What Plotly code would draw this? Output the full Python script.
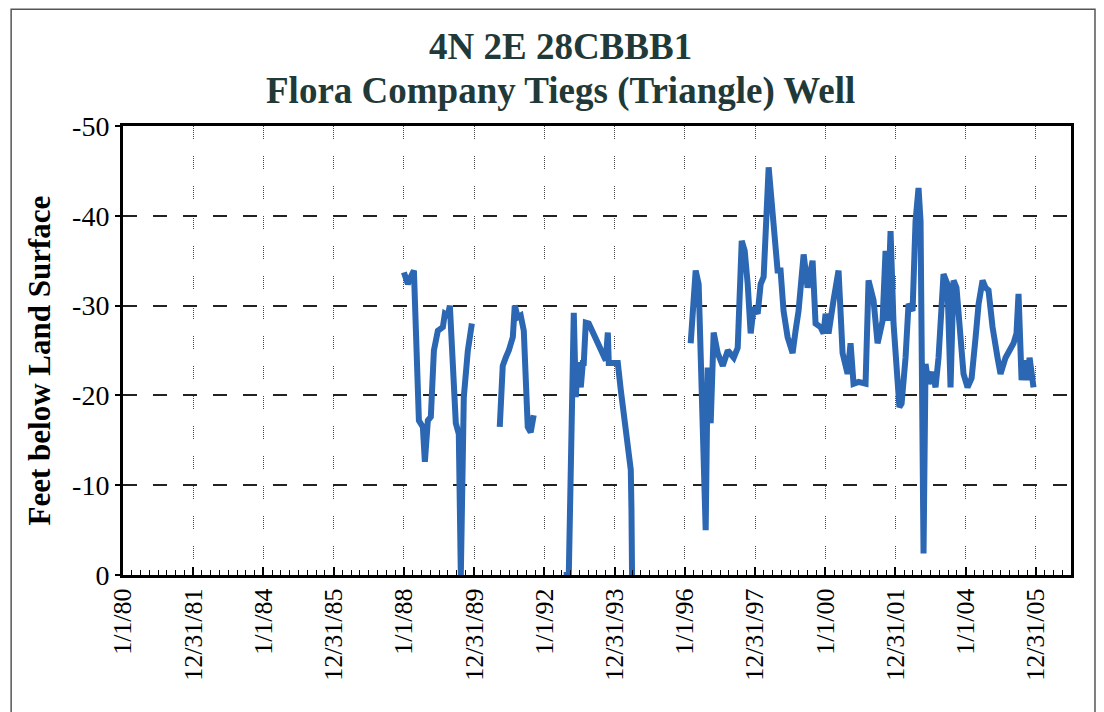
import plotly.graph_objects as go

# ---- data ----
dates = [
    # segment 1
    "1988-01-01", "1988-02-11", "1988-03-13", "1988-04-14", "1988-06-05", "1988-07-16",
    "1988-08-06", "1988-09-06", "1988-10-07", "1988-11-08", "1988-12-19", "1989-02-09",
    "1989-03-02", "1989-04-02", "1989-04-23", "1989-06-24", "1989-07-25", "1989-08-15",
    "1989-09-15", "1989-10-27", "1989-12-08",
    None,
    # segment 2
    "1990-09-24", "1990-10-25", "1990-11-25", "1990-12-27", "1991-02-07", "1991-02-27",
    "1991-03-30", "1991-04-30", "1991-06-01", "1991-06-21", "1991-07-12", "1991-08-12",
    "1991-09-12",
    None,
    # segment 3
    "1992-07-20", "1992-09-11", "1992-11-02", "1992-11-23", "1992-12-14", "1993-01-14",
    "1993-02-04", "1993-02-14", "1993-03-07", "1993-04-07", "1993-10-01", "1993-10-22",
    "1993-11-01", "1994-02-03", "1994-03-06", "1994-04-27", "1994-06-18", "1994-06-25",
    "1994-07-01",
    None,
    # segment 4
    "1996-03-02", "1996-03-23", "1996-04-23", "1996-05-24", "1996-07-05", "1996-08-05",
    "1996-08-26", "1996-09-26", "1996-10-27", "1996-12-08", "1997-01-30", "1997-03-23",
    "1997-05-24", "1997-07-04", "1997-08-15", "1997-09-15", "1997-10-16", "1997-11-16",
    "1997-12-17", "1998-01-28", "1998-02-28", "1998-03-31", "1998-05-22", "1998-07-02",
    "1998-08-23", "1998-09-23", "1998-10-24", "1998-12-05", "1999-01-26", "1999-02-26",
    "1999-03-29", "1999-05-21", "1999-07-01", "1999-08-22", "1999-09-22", "1999-11-13",
    "1999-12-14", "2000-01-04", "2000-02-04", "2000-03-27", "2000-05-18", "2000-06-29",
    "2000-08-20", "2000-09-20", "2000-10-21", "2000-12-12", "2001-02-23", "2001-03-26",
    "2001-05-17", "2001-06-28", "2001-08-19", "2001-09-19", "2001-10-10", "2001-11-10",
    "2001-12-11", "2002-02-10", "2002-03-05", "2002-04-15", "2002-05-16", "2002-06-27",
    "2002-07-28", "2002-08-28", "2002-09-18", "2002-10-19", "2002-11-09", "2002-12-10",
    "2003-01-21", "2003-02-21", "2003-03-24", "2003-05-15", "2003-06-25", "2003-07-27",
    "2003-08-27", "2003-09-27", "2003-11-08", "2003-12-09", "2004-01-20", "2004-03-02",
    "2004-04-13", "2004-05-14", "2004-06-24", "2004-07-25", "2004-08-25", "2004-10-06",
    "2004-11-27", "2004-12-28", "2005-02-18", "2005-03-21", "2005-05-12", "2005-06-12",
    "2005-07-03", "2005-08-04", "2005-09-04", "2005-10-05", "2005-10-26", "2005-12-06",
]

depth_ft = [
    # segment 1
    -33.7, -32.4, -33.2, -33.9, -17.2, -16.5,
    -12.6, -17.2, -17.6, -25.0, -27.2, -27.6,
    -29.1, -28.9, -30.0, -16.9, -15.7, 0.0,
    -19.8, -25.0, -28.0,
    None,
    # segment 2
    -16.5, -23.3, -24.2, -25.0, -26.5, -30.0,
    -28.7, -28.9, -27.2, -21.7, -16.5, -15.9,
    -17.8,
    None,
    # segment 3
    0.0, 0.0, -29.2, -19.8, -23.7, -20.9,
    -23.6, -23.6, -28.1, -28.0, -23.9, -27.0,
    -23.6, -23.6, -20.6, -16.1, -11.7, -7.3,
    0.0,
    None,
    # segment 4
    -25.8, -29.1, -33.9, -32.4, -16.9, -5.0,
    -23.1, -16.9, -27.0, -24.7, -23.3, -25.0,
    -24.2, -25.3, -37.2, -36.1, -32.4, -26.9,
    -29.8, -29.1, -32.4, -33.2, -45.4, -40.6,
    -33.9, -33.9, -29.4, -26.5, -24.7, -27.2,
    -29.4, -35.7, -32.0, -35.0, -28.0, -27.6,
    -26.9, -29.1, -26.9, -30.6, -33.9, -24.7,
    -22.4, -25.8, -21.3, -21.5, -21.3, -32.8,
    -30.6, -25.8, -28.3, -36.1, -28.3, -38.3,
    -28.0, -18.7, -19.1, -24.2, -30.2, -29.4,
    -39.4, -43.1, -39.4, -2.4, -23.5, -21.3,
    -22.6, -20.9, -24.2, -33.5, -32.4, -20.9,
    -32.8, -32.0, -25.3, -22.4, -20.9, -21.9,
    -26.5, -30.2, -32.8, -32.0, -31.7, -27.6,
    -24.2, -22.4, -24.2, -24.9, -25.8, -26.9,
    -31.3, -21.7, -23.9, -21.7, -24.2, -20.9,
]

x_tickvals = [
    "1980-01-01", "1981-12-31", "1984-01-01", "1985-12-31", "1988-01-01", "1989-12-31",
    "1992-01-01", "1993-12-31", "1996-01-01", "1997-12-31", "2000-01-01", "2001-12-31",
    "2004-01-01", "2005-12-31",
]
x_ticktext = [
    "1/1/80", "12/31/81", "1/1/84", "12/31/85", "1/1/88", "12/31/89",
    "1/1/92", "12/31/93", "1/1/96", "12/31/97", "1/1/00", "12/31/01",
    "1/1/04", "12/31/05",
]
y_tickvals = [-50, -40, -30, -20, -10, 0]
y_ticktext = ["-50", "-40", "-30", "-20", "-10", "0"]

title_line1 = "4N 2E 28CBBB1"
title_line2 = "Flora Company Tiegs (Triangle) Well"
y_title = "Feet below Land Surface"

SERIF = "Liberation Serif, Times New Roman, serif"
TITLE_COLOR = "#1f3a38"
DOTTED_SEG = ",".join(["1px"] * 13 + ["17px"])

fig = go.Figure()
fig.add_trace(go.Scatter(
    x=dates, y=depth_ft, mode="lines",
    line=dict(color="#2b67b3", width=6),
    connectgaps=False, showlegend=False,
))

fig.update_layout(
    width=1104, height=712,
    margin=dict(l=115, r=41, t=118, b=145),
    paper_bgcolor="white", plot_bgcolor="white",
    font=dict(family=SERIF, color="black", size=26),
    showlegend=False,
)

fig.update_xaxes(
    type="date",
    range=["1980-01-01", "2006-12-31"],
    tickmode="array", tickvals=x_tickvals, ticktext=x_ticktext,
    tickangle=-90,
    tickfont=dict(family=SERIF, size=26, color="black"),
    ticks="inside", ticklen=8, tickwidth=1.5, tickcolor="black",
    minor=dict(ticks="inside", ticklen=5, tickwidth=1, tickcolor="black",
               dtick="M3", tick0="1980-01-01", showgrid=False),
    showgrid=True, gridcolor="#444444", gridwidth=1, griddash=DOTTED_SEG,
    showline=True, linecolor="black", linewidth=3, mirror=True,
    zeroline=False,
)

fig.update_yaxes(
    range=[0, -50],
    tickmode="array", tickvals=y_tickvals, ticktext=y_ticktext,
    tickfont=dict(family=SERIF, size=28, color="black"),
    ticks="outside", ticklen=5, tickwidth=1.5, tickcolor="black",
    showgrid=True, gridcolor="#222222", gridwidth=1.5, griddash="14px,16px",
    showline=True, linecolor="black", linewidth=3, mirror=True,
    zeroline=False,
)

fig.add_annotation(
    text=f"<b>{title_line1}</b>", xref="paper", yref="paper",
    x=0.4615, y=1.178, xanchor="center", yanchor="middle", showarrow=False,
    font=dict(family=SERIF, size=37, color=TITLE_COLOR),
)
fig.add_annotation(
    text=f"<b>{title_line2}</b>", xref="paper", yref="paper",
    x=0.4615, y=1.077, xanchor="center", yanchor="middle", showarrow=False,
    font=dict(family=SERIF, size=37, color=TITLE_COLOR),
)
fig.add_annotation(
    text=f"<b>{y_title}</b>", xref="paper", yref="paper",
    x=-0.0885, y=0.478, xanchor="center", yanchor="middle", showarrow=False,
    textangle=-90,
    font=dict(family=SERIF, size=31, color="black"),
)

# outer frame of the figure
fig.add_shape(
    type="rect", xref="paper", yref="paper",
    x0=-0.118, x1=1.0253, y0=-0.34, y1=1.26,
    line=dict(color="#555555", width=1.5), fillcolor="rgba(0,0,0,0)",
    layer="below",
)

fig.write_html("out.html")
